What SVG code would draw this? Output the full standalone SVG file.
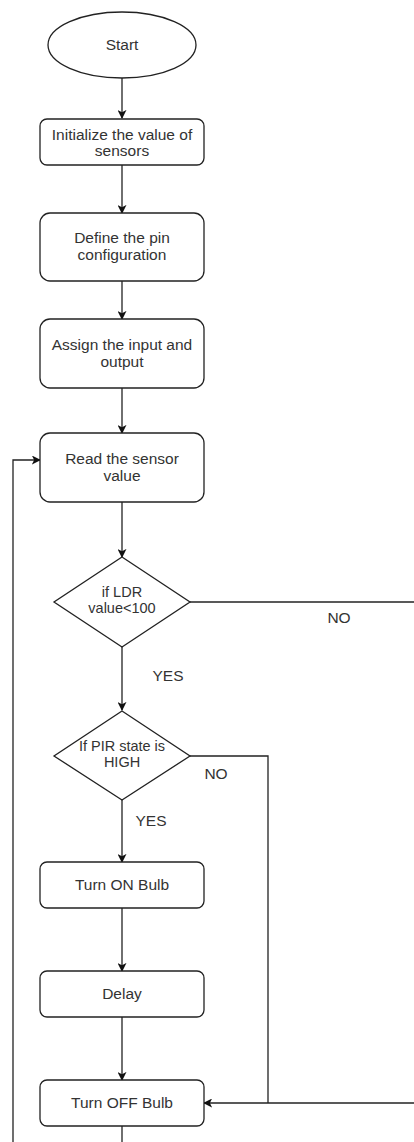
<svg xmlns="http://www.w3.org/2000/svg" width="414" height="1142" viewBox="0 0 414 1142">
<style>
.n{fill:#fff;stroke:#222;stroke-width:1.3}
.t{font-family:"Liberation Sans",Arial,sans-serif;font-size:15.5px;fill:#333;text-anchor:middle}
.s{font-size:14.5px}
.c{fill:none;stroke:#222;stroke-width:1.3}
</style>
<defs>
<marker id="a" viewBox="0 0 10 10" refX="9" refY="5" markerWidth="9" markerHeight="9" markerUnits="userSpaceOnUse" orient="auto">
<path d="M0,0 L10,5 L0,10 L2.5,5 Z" fill="#111"/>
</marker>
</defs>
<rect width="414" height="1142" fill="#fff"/>
<g id="connectors">
<path class="c" d="M122,78 V118" marker-end="url(#a)"/>
<path class="c" d="M122,165 V213" marker-end="url(#a)"/>
<path class="c" d="M122,281 V319" marker-end="url(#a)"/>
<path class="c" d="M122,388 V433" marker-end="url(#a)"/>
<path class="c" d="M122,502 V557" marker-end="url(#a)"/>
<path class="c" d="M190,602 H414"/>
<path class="c" d="M122,647 V710" marker-end="url(#a)"/>
<path class="c" d="M190,756 H268 V1103"/>
<path class="c" d="M414,1103 H204" marker-end="url(#a)"/>
<path class="c" d="M122,800 V862" marker-end="url(#a)"/>
<path class="c" d="M122,908 V971" marker-end="url(#a)"/>
<path class="c" d="M122,1017 V1080" marker-end="url(#a)"/>
<path class="c" d="M122,1126 V1142"/>
<path class="c" d="M13,1142 V460 H40" marker-end="url(#a)"/>
<text class="t" x="339" y="623">NO</text>
<text class="t" x="168" y="681">YES</text>
<text class="t" x="216" y="779">NO</text>
<text class="t" x="151" y="826">YES</text>
</g>
<g id="start">
<ellipse class="n" cx="122" cy="45" rx="74" ry="33"/>
<text class="t" x="122" y="50">Start</text>
</g>
<g id="init">
<rect class="n" x="40" y="119" width="164" height="46" rx="7"/>
<text class="t" x="122" y="140">Initialize the value of</text>
<text class="t" x="122" y="156">sensors</text>
</g>
<g id="define">
<rect class="n" x="40" y="213" width="164" height="68" rx="10"/>
<text class="t" x="122" y="243">Define the pin</text>
<text class="t" x="122" y="260">configuration</text>
</g>
<g id="assign">
<rect class="n" x="40" y="319" width="164" height="69" rx="10"/>
<text class="t" x="122" y="350">Assign the input and</text>
<text class="t" x="122" y="367">output</text>
</g>
<g id="read">
<rect class="n" x="40" y="433" width="164" height="69" rx="10"/>
<text class="t" x="122" y="464">Read the sensor</text>
<text class="t" x="122" y="481">value</text>
</g>
<g id="ldr">
<path class="n" d="M122,557 L190,602 L122,647 L54,602 Z"/>
<text class="t s" x="122" y="597">if LDR</text>
<text class="t s" x="122" y="613">value&lt;100</text>
</g>
<g id="pir">
<path class="n" d="M122,711 L190,756 L122,800 L54,756 Z"/>
<text class="t s" x="122" y="751">If PIR state is</text>
<text class="t s" x="122" y="767">HIGH</text>
</g>
<g id="on">
<rect class="n" x="40" y="862" width="164" height="46" rx="7"/>
<text class="t" x="122" y="890">Turn ON Bulb</text>
</g>
<g id="delay">
<rect class="n" x="40" y="971" width="164" height="46" rx="7"/>
<text class="t" x="122" y="999">Delay</text>
</g>
<g id="off">
<rect class="n" x="40" y="1080" width="164" height="46" rx="7"/>
<text class="t" x="122" y="1108">Turn OFF Bulb</text>
</g>
</svg>
